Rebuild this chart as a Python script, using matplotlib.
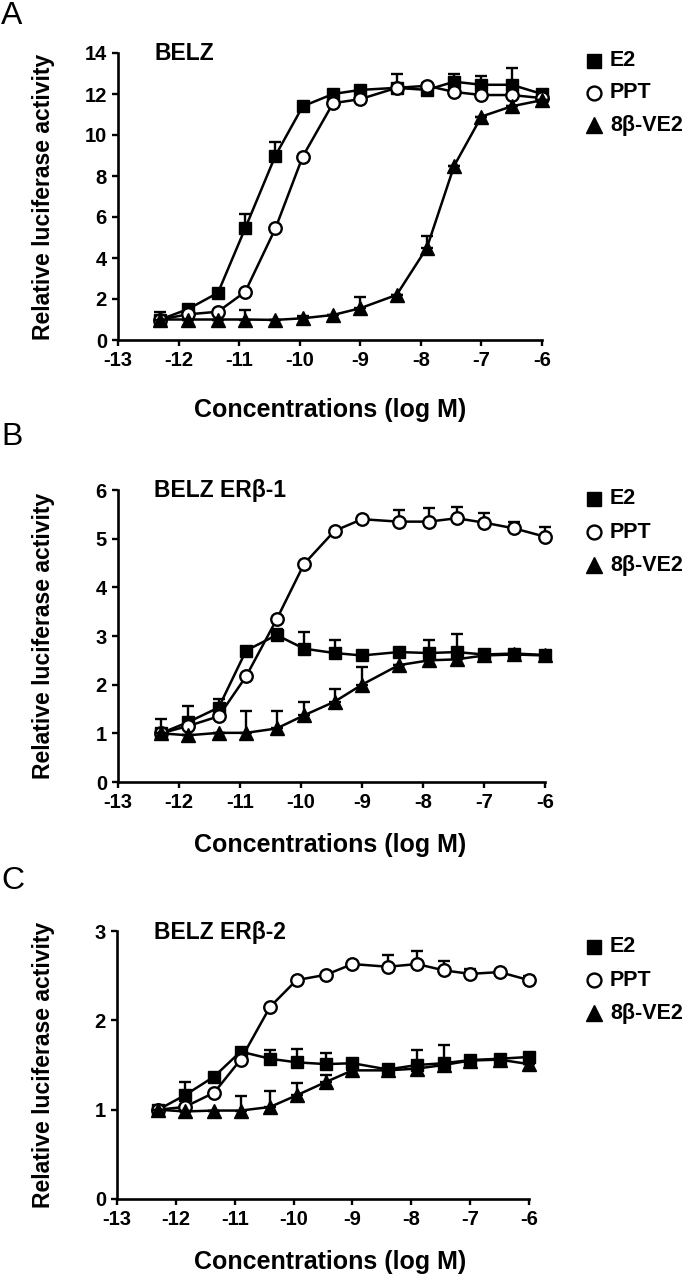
import matplotlib
matplotlib.use("Agg")
import matplotlib.pyplot as plt
import numpy as np

plt.rcParams['font.family'] = ['Liberation Sans', 'DejaVu Sans']

# log concentrations (log M)
x_conc = [-12.3, -11.85, -11.35, -10.9, -10.4, -9.95, -9.45, -9.0, -8.4, -7.9, -7.45, -7.0, -6.5, -6.0]

series_names = ["E2", "PPT", "8\u03b2-VE2"]
panel_letters = ["A", "B", "C"]
panel_titles = ["BELZ", "BELZ ER\u03b2-1", "BELZ ER\u03b2-2"]

# Panel A
e2_a = [1.0, 1.5, 2.3, 5.45, 9.0, 11.4, 12.0, 12.2, 12.3, 12.2, 12.6, 12.45, 12.45, 12.0]
e2_a_err = [0, 0, 0, 0.7, 0.65, 0, 0, 0, 0.7, 0.2, 0.4, 0.45, 0.8, 0]
ppt_a = [1.0, 1.25, 1.38, 2.35, 5.45, 8.95, 11.55, 11.75, 12.3, 12.4, 12.1, 11.95, 11.95, 11.8]
ppt_a_err = [0, 0, 0, 0, 0, 0, 0, 0, 0, 0.15, 0, 0, 0, 0]
ve2_a = [1.0, 1.0, 1.0, 1.0, 0.98, 1.06, 1.22, 1.55, 2.2, 4.5, 8.5, 10.9, 11.4, 11.7]
ve2_a_err = [0.38, 0, 0, 0.45, 0, 0.1, 0, 0.55, 0, 0.55, 0, 0, 0, 0]

# Panel B
e2_b = [1.0, 1.23, 1.53, 2.7, 3.02, 2.74, 2.65, 2.6, 2.67, 2.65, 2.67, 2.62, 2.64, 2.61]
e2_b_err = [0.3, 0.33, 0.18, 0, 0.12, 0.35, 0.26, 0, 0, 0.26, 0.38, 0, 0, 0]
ppt_b = [1.0, 1.15, 1.35, 2.17, 3.34, 4.48, 5.16, 5.4, 5.35, 5.35, 5.42, 5.33, 5.21, 5.04]
ppt_b_err = [0, 0, 0, 0, 0, 0, 0, 0, 0.23, 0.27, 0.23, 0.19, 0.14, 0.19]
ve2_b = [1.0, 0.96, 1.01, 1.01, 1.1, 1.37, 1.65, 2.0, 2.4, 2.5, 2.52, 2.6, 2.62, 2.6]
ve2_b_err = [0, 0, 0, 0.45, 0.36, 0.28, 0.27, 0.37, 0, 0, 0, 0, 0, 0]

# Panel C
e2_c = [1.0, 1.16, 1.37, 1.65, 1.57, 1.53, 1.51, 1.52, 1.45, 1.5, 1.52, 1.555, 1.57, 1.59]
e2_c_err = [0, 0.15, 0, 0, 0.1, 0.15, 0.12, 0, 0, 0.17, 0.2, 0, 0, 0]
ppt_c = [1.0, 1.03, 1.19, 1.56, 2.15, 2.45, 2.51, 2.63, 2.6, 2.63, 2.56, 2.52, 2.54, 2.45]
ppt_c_err = [0, 0, 0, 0, 0, 0, 0, 0, 0.13, 0.15, 0.1, 0.06, 0, 0.05]
ve2_c = [1.0, 0.98, 0.99, 0.99, 1.03, 1.16, 1.31, 1.44, 1.44, 1.46, 1.5, 1.55, 1.56, 1.51]
ve2_c_err = [0, 0, 0, 0.16, 0.18, 0.14, 0.08, 0, 0, 0, 0, 0, 0, 0]

x_ticks = [-13, -12, -11, -10, -9, -8, -7, -6]
y_ticks_a = [0, 2, 4, 6, 8, 10, 12, 14]
y_ticks_b = [0, 1, 2, 3, 4, 5, 6]
y_ticks_c = [0, 1, 2, 3]

W, H = 689, 1280
fig = plt.figure(figsize=(W / 100, H / 100), dpi=100)

# axes boxes in pixels: left, right, top, bottom
boxes = [(118, 542, 53, 340), (118, 545, 490, 782), (117, 529, 931, 1199)]
legend_rows = [(61, 93, 125), (499, 532, 565), (947, 980, 1013)]
letter_y = [16, 437, 881]
xlabel_y = [410, 845, 1262]

panels = [
    ((e2_a, e2_a_err), (ppt_a, ppt_a_err), (ve2_a, ve2_a_err), y_ticks_a),
    ((e2_b, e2_b_err), (ppt_b, ppt_b_err), (ve2_b, ve2_b_err), y_ticks_b),
    ((e2_c, e2_c_err), (ppt_c, ppt_c_err), (ve2_c, ve2_c_err), y_ticks_c),
]

styles = [
    dict(marker='s', mfc='black', mec='black', ms=8.5, mew=1.0),
    dict(marker='o', mfc='white', mec='black', ms=9, mew=1.7),
    dict(marker='^', mfc='black', mec='black', ms=10, mew=1.0),
]
legend_ms = [10.5, 10, 11.5]

for i, (s_e2, s_ppt, s_ve2, yt) in enumerate(panels):
    l, r, t, b = boxes[i]
    ax = fig.add_axes([l / W, 1 - b / H, (r - l) / W, (b - t) / H])
    for j, (vals, errs) in enumerate([s_e2, s_ppt, s_ve2]):
        ax.errorbar(x_conc, vals, yerr=[np.zeros(len(errs)), errs], fmt='none',
                    ecolor='black', elinewidth=1.7, capsize=4, capthick=1.7,
                    zorder=2 + j, clip_on=False)
        ax.plot(x_conc, vals, color='black', lw=1.8, zorder=3 + j, clip_on=False,
                **styles[j])
    ax.set_xlim(-13, -6)
    ax.set_ylim(0, yt[-1])
    ax.set_xticks(x_ticks)
    ax.set_yticks(yt)
    ax.set_xticklabels([str(v) for v in x_ticks])
    ax.set_yticklabels([str(v) for v in yt])
    for side in ['top', 'right']:
        ax.spines[side].set_visible(False)
    for side in ['left', 'bottom']:
        ax.spines[side].set_linewidth(1.9)
    ax.tick_params(direction='out', length=4, width=1.7, pad=4, labelsize=14.5)
    for lab in ax.get_xticklabels() + ax.get_yticklabels():
        lab.set_fontweight('bold')
    ax.patch.set_alpha(0)

    # panel title
    fig.text(154 / W, 1 - (t + 1) / H, panel_titles[i], fontsize=16.5,
             fontweight='bold', ha='left', va='center')
    # panel letter
    fig.text(1 / W, 1 - letter_y[i] / H, panel_letters[i], fontsize=23,
             ha='left', va='center')
    # y label
    fig.text(44 / W, 1 - ((t + b) / 2) / H, "Relative luciferase activity",
             rotation=90, fontsize=16.5, fontweight='bold', ha='center', va='center')
    # x label
    fig.text(330 / W, 1 - xlabel_y[i] / H, "Concentrations (log M)",
             fontsize=18, fontweight='bold', ha='center', va='center')
    # legend
    for j, name in enumerate(series_names):
        yy = 1 - legend_rows[i][j] / H
        st = dict(styles[j])
        st['ms'] = legend_ms[j]
        fig.lines.append(plt.Line2D([594 / W], [yy], transform=fig.transFigure,
                                    linestyle='none', **st))
        fig.text(610 / W, yy, name, fontsize=15.5, fontweight='bold',
                 ha='left', va='center')

fig.savefig("out.png", dpi=100)
